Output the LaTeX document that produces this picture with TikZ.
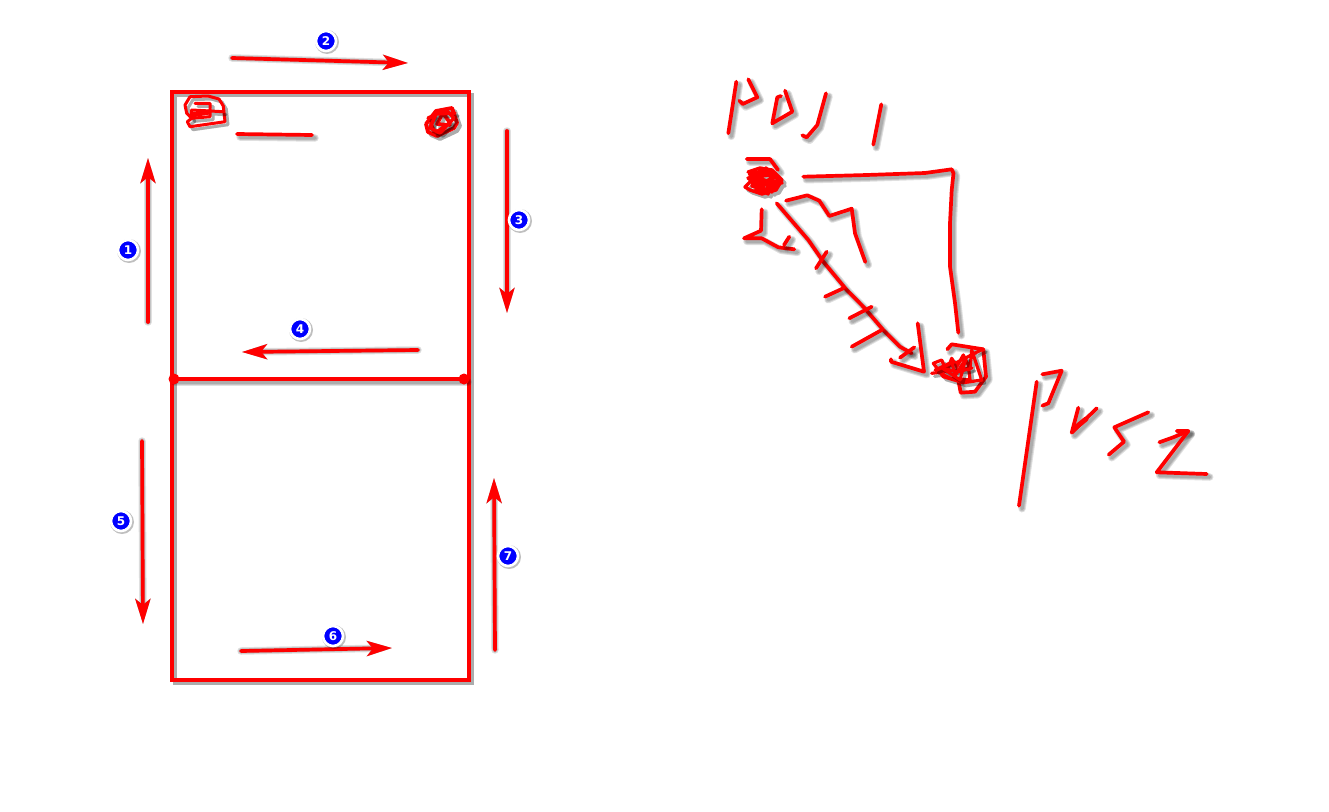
\documentclass[tikz,border=0pt]{standalone}
\usepackage{fontspec}
\setmainfont{DejaVu Sans}
\usetikzlibrary{arrows.meta,calc}
\tikzset{
  inkline/.style={draw=red,line width=3.7pt,line cap=round,line join=round},
  shadowline/.style={draw=black,line cap=round,line join=round,opacity=.12,shift={(3,3)}},
  badge/.style={circle,fill=blue,draw=white,line width=2.6pt,minimum size=20pt,inner sep=0pt,text=white,font=\bfseries\fontsize{12}{12}\selectfont},
  badgeshadow/.style={circle,fill=black,opacity=.25,minimum size=24pt,inner sep=0pt},
  headtip/.style={-{Stealth[length=25pt,width=15pt,inset=6pt]}}
}
\newcommand\sk[2][]{%
  \draw[shadowline,line width=7.5pt,#1] #2;
  \draw[shadowline,line width=5.5pt,#1] #2;
  \draw[shadowline,line width=3.5pt,#1] #2;
  \draw[inkline,#1] #2;
}
\newcommand\bdg[2]{%
  \node[badgeshadow] at ($(#1)+(1,1)$) {};
  \node[badge] (b#2) at (#1) {#2};
}
\begin{document}
\begin{tikzpicture}[x=1pt,y=-1pt]
\useasboundingbox (0,0) rectangle (1329,811);
\fill[white] (0,0) rectangle (1329,811);
% frame
\sk[line join=miter,line width=4pt]{(171.5,91.5) rectangle (468.5,680)}
\sk{(172,379) -- (465,379)}
\fill[red] (174,379) circle (5.5);
\fill[red] (464,379) circle (5.5);
% arrows
\coordinate (a1s) at (148,322); \coordinate (a1e) at (148,158);
\coordinate (a2s) at (232,58);  \coordinate (a2e) at (408,63);
\coordinate (a3s) at (507,131); \coordinate (a3e) at (507,313);
\coordinate (a4s) at (418,350); \coordinate (a4e) at (242,352);
\coordinate (a5s) at (142,441); \coordinate (a5e) at (143,624);
\coordinate (a6s) at (241,651); \coordinate (a6e) at (392,648);
\coordinate (a7s) at (495,650); \coordinate (a7e) at (494,478);
\foreach \n in {1,...,7}{
  \sk[headtip]{(a\n s) -- (a\n e)}
}
% scribbles in the frame
\sk[line width=3pt]{(190,96.7) -- (208,96) -- (219,99) -- (223.3,106) -- (225,121.7) -- (190,126.7) -- (187.3,121.7) -- (191.7,118.3) -- (186.7,113.3) -- (185,105) -- (190,96.7)}
\sk[line width=3pt]{(195,103.3) -- (210,103.3) -- (210,116.7) -- (191.7,118.3) -- (191.7,110) -- (223,111.7)}
\draw[red,line width=5pt] (192,115) -- (209,112);
\sk[line width=3.8pt]{(426,124) -- (436,111) -- (452,108) -- (457,123) -- (454,128) -- (437,136) -- (428,132) -- (426,124)}
\sk[line width=3.6pt]{(433,115) -- (431,124) -- (435,133) -- (450,123) -- (443,113) -- (437,124) -- (450,125)}
\sk[line width=3.4pt]{(428,118) -- (446,110) -- (454,118) -- (440,133) -- (430,128) -- (436,114) -- (455,113)}
\sk{(237,134) -- (312,135)}
% POJ I
\sk{(736.3,81.7) -- (728.3,133.3)}
\sk{(748.3,79.3) -- (757.3,97.3) -- (742.7,104) -- (739.3,100.7)}
\sk{(785,90.7) -- (792.3,111.7) -- (772.3,123.3) -- (777.3,97.3) -- (781,96)}
\sk{(826,93.3) -- (817.3,125) -- (806.7,137.3) -- (802.3,135.3)}
\sk{(881.3,104.3) -- (873.3,144.7)}
% left blob
\sk{(746.7,159) -- (770,159) -- (778,170)}
\sk[line width=3.4pt]{(748,172) -- (760,168) -- (772,170) -- (782,180) -- (776,190) -- (762,194) -- (750,190) -- (745,187) -- (752,180) -- (749,172) -- (765,190) -- (780,178) -- (760,170) -- (752,186) -- (772,192) -- (770,172) -- (755,176) -- (778,186) -- (758,192) -- (762,172) -- (750,182) -- (782,183) -- (766,168) -- (756,190) -- (776,174) -- (748,178) -- (768,194) -- (774,176) -- (752,172) -- (760,186) -- (780,182)}
% route line from left blob
\sk{(803.3,176.7) -- (866.7,175) -- (925,173) -- (951.7,169.3) -- (953.5,173.3) -- (951.7,190) -- (950,223) -- (950,266.7) -- (955,303) -- (958.3,332.7)}
\sk{(786,200.7) -- (807.3,195.3) -- (819.3,200.7) -- (829.3,216) -- (851.7,208.7) -- (855,233.3) -- (865.3,262)}
\sk{(776.7,203.3) -- (808.3,240) -- (823.3,261.7) -- (846.7,290) -- (863.3,306.7) -- (883.3,330) -- (900,346.7) -- (911.7,353.3)}
\sk{(826.7,251.7) -- (816,268.3)}
\sk{(825,296.7) -- (843.3,288.3)}
\sk{(849.3,318.3) -- (871.7,306.7)}
\sk{(851.7,346.7) -- (881.7,330)}
\sk{(900,357.7) -- (914.3,347.3)}
\sk{(917.7,323.3) -- (924,371.7) -- (891,361.7) -- (891,359.3)}
\sk{(761.7,209.3) -- (761,230.7) -- (744,238.3) -- (761.7,238.3) -- (778.3,247.3) -- (794.3,249.3)}
\sk{(789.3,236.7) -- (784,245)}
% right blob
\sk{(947.3,349.3) -- (951.7,344.3) -- (983.3,349.3) -- (986,376.7) -- (975,391.7) -- (960.7,392.7) -- (958.3,380)}
\sk[line width=3.2pt]{(931.7,373.3) -- (970,368.3) -- (971.7,350) -- (981.7,380) -- (963.3,382.7) -- (943.3,376.7) -- (933.3,363.3) -- (941.7,360) -- (946.7,371.7) -- (951.7,358.3) -- (956.7,366.7) -- (963.3,355) -- (968.3,365) -- (970,380) -- (950,378) -- (938,372) -- (983,349)}
\sk[line width=3pt]{(935,370) -- (952,362) -- (955,376) -- (966,358) -- (960,380) -- (942,368) -- (958,372) -- (972,368)}
% PUSZ
\sk{(1036.7,381.7) -- (1019,505.7)}
\sk{(1042.3,374.3) -- (1061.7,370.7) -- (1048.3,403.3) -- (1042.3,405.7)}
\sk{(1078.3,407.7) -- (1071.7,432.7) -- (1096.7,408.3)}
\draw[red,line width=5pt,line cap=round] (1075,428) -- (1086,419);
\sk{(1148.3,412.3) -- (1114.3,427.3) -- (1124,441.7) -- (1108.7,454.7)}
\sk{(1159.3,442.3) -- (1173.3,437.3) -- (1188.3,431) -- (1176.7,431)}
\sk{(1188.3,431) -- (1156.7,472.3) -- (1206.7,474)}
% badges
\coordinate (p1) at (128,250);
\coordinate (p2) at (326,41);
\coordinate (p3) at (519,220);
\coordinate (p4) at (300,329);
\coordinate (p5) at (121,521);
\coordinate (p6) at (333,636);
\coordinate (p7) at (508,556);
\foreach \n in {1,...,7}{ \bdg{p\n}{\n} }
\end{tikzpicture}
\end{document}
